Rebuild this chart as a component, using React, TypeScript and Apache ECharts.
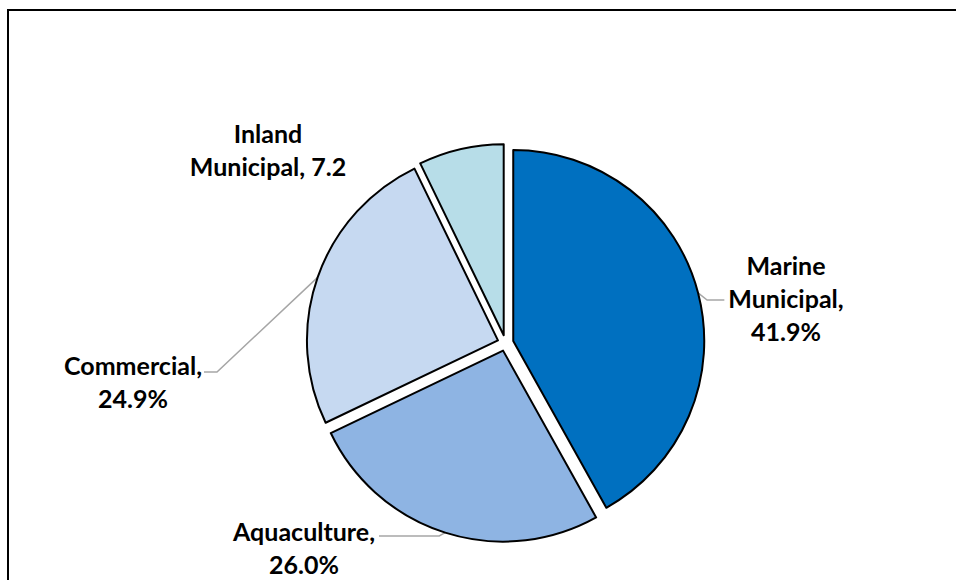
import React, { useEffect, useRef } from "react";
import * as echarts from "echarts";

const categories = ["Marine Municipal", "Aquaculture", "Commercial", "Inland Municipal"];
const values = [41.9, 26.0, 24.9, 7.2];
const labelTexts = ["Marine\nMunicipal,\n41.9%", "Aquaculture,\n26.0%", "Commercial,\n24.9%", "Inland\nMunicipal, 7.2"];
const colors = ["#0070C0", "#8EB4E3", "#C6D9F1", "#B7DDE8"];

const CX = 505.5;
const CY = 343;
const R = 191;
const OFF = 8;

// label layout (center of label box)
const labelPos: [number, number][] = [
  [786, 298],
  [304, 547.5],
  [133, 381],
  [268, 149],
];

function midDir(i: number): [number, number] {
  const total = values.reduce((a, b) => a + b, 0);
  let before = 0;
  for (let k = 0; k < i; k++) before += values[k];
  const mid = ((before + values[i] / 2) / total) * Math.PI * 2;
  return [Math.sin(mid), -Math.cos(mid)];
}

function edgePoint(i: number): [number, number] {
  const [dx, dy] = midDir(i);
  return [CX + dx * (R + OFF), CY + dy * (R + OFF)];
}

function makeSeries(i: number): any {
  const [dx, dy] = midDir(i);
  return {
    type: "pie",
    center: [CX + dx * OFF, CY + dy * OFF],
    radius: [0, R],
    startAngle: 90,
    clockwise: true,
    avoidLabelOverlap: false,
    silent: true,
    emphasis: { disabled: true },
    label: {
      show: true,
      position: "outside",
      color: "#000000",
      fontFamily: "Lato",
      fontWeight: "bold",
      fontSize: 25,
      lineHeight: 33,
      align: "center",
      formatter: (p: any) => labelTexts[p.dataIndex],
    },
    labelLine: {
      show: i !== 3,
      length: 10,
      length2: 10,
      lineStyle: { color: "#A6A6A6", width: 1.5 },
    },
    labelLayout: (params: any) => {
      const k = params.dataIndex;
      const [lx, ly] = labelPos[k];
      const w = params.labelRect.width;
      const p0 = edgePoint(k);
      let pts: any = undefined;
      if (k === 0) {
        const left = lx - w / 2 - 4;
        pts = [p0, [p0[0] + 9, ly + 2], [left, ly + 2]];
      } else if (k === 1) {
        const right = lx + w / 2 + 4;
        const yl = ly - 11.5;
        pts = [p0, [p0[0] - 6, yl], [right, yl]];
      } else if (k === 2) {
        const right = lx + w / 2 + 2;
        const yl = ly - 9;
        pts = [p0, [right + 13, yl], [right, yl]];
      }
      const res: any = { x: lx, y: ly, align: "center", verticalAlign: "middle" };
      if (pts) res.labelLinePoints = pts;
      return res;
    },
    data: categories.map((name, j) =>
      j === i
        ? {
            name,
            value: values[j],
            itemStyle: { color: colors[j], borderColor: "#000000", borderWidth: 2 },
          }
        : {
            name,
            value: values[j],
            itemStyle: { color: "rgba(0,0,0,0)", borderWidth: 0 },
            label: { show: false },
            labelLine: { show: false },
          }
    ),
  };
}

export default function App() {
  const ref = useRef<HTMLDivElement>(null);
  useEffect(() => {
    if (!ref.current) return;
    const chart = echarts.init(ref.current, undefined, { renderer: "svg" });
    const option: any = {
      animation: false,
      backgroundColor: "#ffffff",
      graphic: [
        {
          type: "rect",
          shape: { x: 8, y: 10, width: 980, height: 620 },
          style: { fill: "none", stroke: "#000000", lineWidth: 2 },
          silent: true,
        },
      ],
      series: categories.map((_, i) => makeSeries(i)),
    };
    chart.setOption(option);
    return () => chart.dispose();
  }, []);
  return (
    <div
      ref={ref}
      style={{ position: "fixed", left: 0, top: 0, width: 956, height: 580 }}
    />
  );
}
